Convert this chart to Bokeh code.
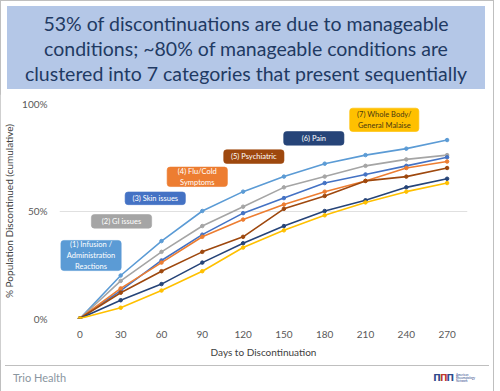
from bokeh.plotting import figure
from bokeh.models import Label, BoxAnnotation, FixedTicker, Range1d, Div
from bokeh.layouts import column
from bokeh.embed import file_html
from bokeh.resources import INLINE

# ---------------- data ----------------
days = [0, 30, 60, 90, 120, 150, 180, 210, 240, 270]
infusion = [0, 20, 36, 50, 59, 66, 72, 76, 79, 83]
gi = [0, 17.5, 31, 43, 52, 61, 66, 71, 74, 76]
skin = [0, 13, 27, 39, 49, 56, 63, 67, 71, 75]
flu = [0, 14, 26, 38, 46, 53, 59, 64, 70, 73]
psych = [0, 12, 22, 31, 38, 51, 57, 64, 66, 70]
pain = [0, 8.5, 16, 26, 35, 43, 50, 55, 61, 65]
malaise = [0, 5, 13, 22, 33, 41, 48, 54, 59, 63]

series_names = ["(1) Infusion /\nAdministration\nReactions", "(2) GI issues", "(3) Skin issues",
                "(4) Flu/Cold\nSymptoms", "(5) Psychiatric", "(6) Pain",
                "(7) Whole Body/\nGeneral Malaise"]
series_values = [infusion, gi, skin, flu, psych, pain, malaise]
series_colors = ["#5b9bd5", "#a5a5a5", "#4472c4", "#ed7d31", "#9e480e", "#264478", "#ffc000"]
label_text_colors = ["white"] * 6 + ["#4a3a10"]

y_ticks = [0, 50, 100]
y_tick_labels = ["0%", "50%", "100%"]

title_lines = ["53% of discontinuations are due to manageable",
               "conditions; ~80% of manageable conditions are",
               "clustered into 7 categories that present sequentially"]

# ---------------- layout ----------------
W = 484
TITLE_H, FIG_H, FOOT_H = 84, 266, 25
FL, FR, FT, FB = 54, 467, 9, 230
X0, X1 = -15, 285
Y0, Y1 = 0, 100
XPP = (X1 - X0) / (FR - FL)
YPP = (Y1 - Y0) / (FB - FT)

FONT = "Lato"

p = figure(width=W, height=FIG_H, x_range=Range1d(X0, X1), y_range=Range1d(Y0, Y1),
           output_backend="svg", toolbar_location=None,
           min_border_left=FL, min_border_right=W - FR,
           min_border_top=FT, min_border_bottom=FIG_H - FB)
p.outline_line_color = None
p.background_fill_color = "white"
p.border_fill_color = "white"

# axes
p.xaxis.ticker = FixedTicker(ticks=days)
p.yaxis.ticker = FixedTicker(ticks=y_ticks)
p.yaxis.major_label_overrides = {t: l for t, l in zip(y_ticks, y_tick_labels)}
for ax in (p.xaxis[0], p.yaxis[0]):
    ax.axis_line_color = None
    ax.major_tick_line_color = None
    ax.minor_tick_line_color = None
    ax.major_label_text_font = FONT
    ax.major_label_text_font_size = "10px"
    ax.major_label_text_color = "#595959"
    ax.axis_label_text_font = FONT
    ax.axis_label_text_font_size = "10px"
    ax.axis_label_text_font_style = "normal"
    ax.axis_label_text_color = "#404040"
p.xaxis.axis_label = "Days to Discontinuation"
p.yaxis.axis_label = "% Population Discontinued (cumulative)"
p.xaxis.major_label_standoff = 6
p.xaxis.axis_label_standoff = 5
p.yaxis.major_label_standoff = 6
p.yaxis.axis_label_standoff = 4
p.xgrid.grid_line_color = None
p.ygrid.grid_line_color = "#e0e0e0"
p.ygrid.grid_line_width = 1

# series
for vals, col in zip(series_values, series_colors):
    p.line(days, vals, line_color=col, line_width=1.6)
    p.scatter(days, vals, size=3.5, fill_color=col, line_color=col)

# category annotation boxes: (center day, center %, width px, height px)
box_pos = [(8.2, 29.3, 61, 31), (30.6, 45.2, 61, 14), (55.4, 55.9, 61, 13),
           (86.3, 65.9, 61, 20), (127.9, 75.3, 61, 14), (172.0, 83.8, 61, 14),
           (223.8, 92.4, 70, 24)]
for name, col, tcol, (cx, cy, w, h) in zip(series_names, series_colors, label_text_colors, box_pos):
    p.add_layout(BoxAnnotation(left=cx - w / 2 * XPP, right=cx + w / 2 * XPP,
                               bottom=cy - h / 2 * YPP, top=cy + h / 2 * YPP,
                               fill_color=col, fill_alpha=1, line_color=col, line_alpha=0.6,
                               border_radius=3, level="annotation"))
    p.add_layout(Label(x=cx, y=cy, text=name, text_align="center", text_baseline="middle",
                       text_font=FONT, text_font_size="7.5px", text_color=tcol,
                       text_line_height=1.25, level="annotation"))

# title banner
title_html = (
    '<div style="box-sizing:border-box; width:478px; height:83px; margin:1px 0 0 2px; '
    'background:#b4c7e7; color:#1f3a63; font-family:Lato, sans-serif; font-size:19.5px; '
    'line-height:25px; text-align:center; padding-top:5px; white-space:nowrap;">'
    + "<br>".join(title_lines) + "</div>"
)
title_div = Div(text=title_html, width=W, height=TITLE_H,
                styles={"background-color": "white"})

# footer
footer_html = (
    '<div style="box-sizing:border-box; width:484px; height:25px; border-top:1px solid #bfbfbf; '
    'display:flex; align-items:center; justify-content:space-between; padding:0 14px 0 8px; '
    'font-family:Lato, sans-serif;">'
    '<span style="color:#8a96a0; font-size:11px;">Trio Health</span>'
    '<span style="display:flex; align-items:center;">'
    '<span style="color:#2e4a8a; font-family:\'DejaVu Sans\'; font-weight:bold; font-size:9px; '
    'letter-spacing:-1px;">Π<span style="color:#c0392b;">Π</span>Π</span>'
    '<span style="color:#2e4a8a; font-size:3px; line-height:3px; margin-left:3px;">'
    'American<br>Rheumatology<br>Network</span></span></div>'
)
footer_div = Div(text=footer_html, width=W, height=FOOT_H,
                 styles={"background-color": "white"})

layout = column(title_div, p, footer_div, spacing=0,
                styles={"outline": "1px solid #bfbfbf", "outline-offset": "-1px",
                        "background-color": "white"})

open("out.html", "w").write(file_html(layout, INLINE))
